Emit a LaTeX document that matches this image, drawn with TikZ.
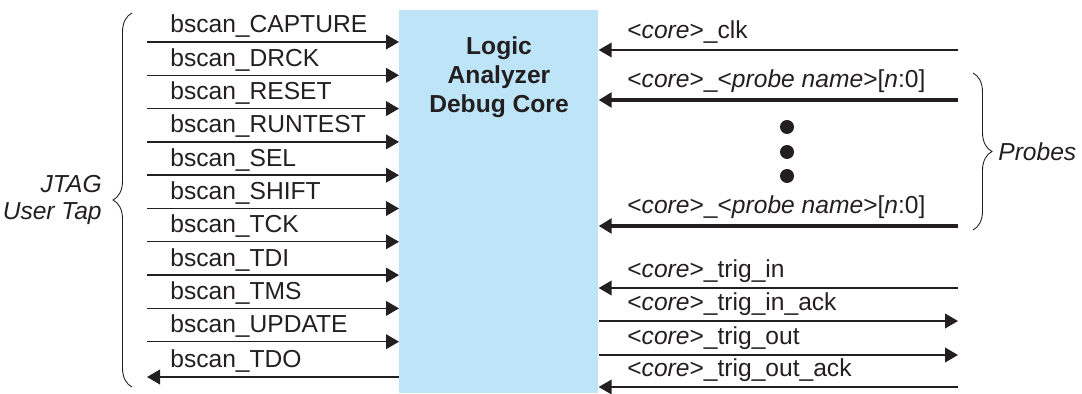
\documentclass[tikz,border=0pt]{standalone}
\usepackage{fontspec}
\setmainfont{Liberation Sans}
\usetikzlibrary{arrows.meta,decorations.pathreplacing}

\definecolor{coreblue}{RGB}{190,228,248}
\definecolor{wire}{RGB}{35,31,32}

\begin{document}
\begin{tikzpicture}[x=0.02cm,y=-0.02cm,
    sig/.style={draw=wire, line width=0.8pt, -{Triangle[length=7.4pt,width=8.4pt]}},
    bus/.style={sig, line width=1.8pt},
    lbl/.style={anchor=base west, inner sep=0pt, text=wire, font=\fontsize{14}{16}\selectfont},
    side/.style={inner sep=0pt, text=wire, font=\fontsize{14}{15.4}\selectfont\itshape},
    curly/.style={draw=wire, line width=0.5pt, decorate, decoration={brace, amplitude=0.38cm}}]
    \useasboundingbox (0,0) rectangle (1082,394);

    % debug core
    \node (core) [fill=coreblue, inner sep=0pt, minimum width=3.98cm, minimum height=7.66cm, anchor=north west] at (399,10) {};
    \node (title) [anchor=north, align=center, inner sep=0pt, text=wire, font=\fontsize{14}{16.6}\selectfont\bfseries] at (499,36) {Logic\\Analyzer\\Debug Core};

    % JTAG user tap
    \foreach \name [count=\i from 0] in {CAPTURE,DRCK,RESET,RUNTEST,SEL,SHIFT,TCK,TDI,TMS,UPDATE}
    {
      \pgfmathsetmacro{\yy}{42+33.3*\i}
      \coordinate (jt\i) at (147,\yy);
      \draw[sig] (jt\i) -- (core.west |- jt\i);
      \node[lbl] at (170,\yy-9) {bscan\_\name};
    }
    \coordinate (tdo) at (147,377);
    \draw[sig] (core.west |- tdo) -- (tdo);
    \node[lbl] at (170,368) {bscan\_TDO};

    \draw[curly] (132,387) -- (132,13);
    \node (jtag) [side, anchor=east, align=right] at (102,200) {JTAG\\User Tap};

    % core ports
    \coordinate (clk) at (958,50);
    \coordinate (pra) at (958,100);
    \coordinate (prb) at (958,226);
    \coordinate (tin) at (958,288);
    \coordinate (tinack) at (958,321);
    \coordinate (tout) at (958,355);
    \coordinate (toutack) at (958,387);

    \draw[sig] (clk) -- (core.east |- clk);
    \draw[bus] (pra) -- (core.east |- pra);
    \draw[bus] (prb) -- (core.east |- prb);
    \draw[sig] (tin) -- (core.east |- tin);
    \draw[sig] (core.east |- tinack) -- (tinack);
    \draw[sig] (core.east |- tout) -- (tout);
    \draw[sig] (toutack) -- (core.east |- toutack);

    \node[lbl] at (627,39) {<\textit{core}>\_clk};
    \node[lbl] at (627,88) {<\textit{core}>\_<\textit{probe name}>[\textit{n}:0]};
    \node[lbl] at (627,214) {<\textit{core}>\_<\textit{probe name}>[\textit{n}:0]};
    \node[lbl] at (627,278) {<\textit{core}>\_trig\_in};
    \node[lbl] at (627,311) {<\textit{core}>\_trig\_in\_ack};
    \node[lbl] at (627,345) {<\textit{core}>\_trig\_out};
    \node[lbl] at (627,377) {<\textit{core}>\_trig\_out\_ack};

    \foreach \y in {127,152,176}
    {
      \fill[wire] (787,\y) circle[radius=0.14cm];
    }

    \draw[curly] (973,73) -- (973,230);
    \node (probes) [side, anchor=west] at (998,152) {Probes};
\end{tikzpicture}
\end{document}
